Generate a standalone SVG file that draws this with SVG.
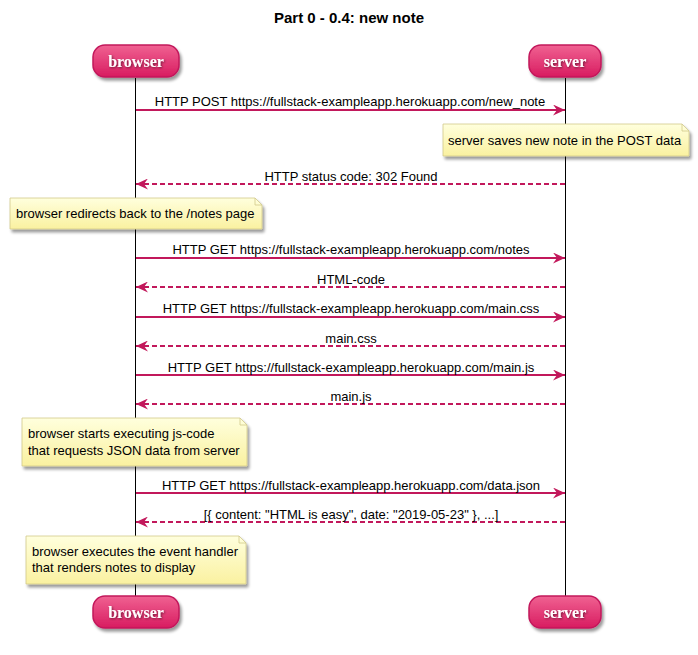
<svg xmlns="http://www.w3.org/2000/svg" width="698" height="655" viewBox="0 0 698 655">
<defs>
<linearGradient id="pg" x1="0" y1="0" x2="0" y2="1">
<stop offset="0" stop-color="#F06292"/>
<stop offset="1" stop-color="#D81B60"/>
</linearGradient>
<linearGradient id="ng" x1="0" y1="0" x2="0" y2="1">
<stop offset="0" stop-color="#FFFFDD"/>
<stop offset="1" stop-color="#FAF1A0"/>
</linearGradient>
<filter id="sh" x="-10%" y="-20%" width="130%" height="160%">
<feGaussianBlur in="SourceAlpha" stdDeviation="1.5"/>
<feOffset dx="2" dy="3" result="b"/>
<feComponentTransfer><feFuncA type="linear" slope="0.4"/></feComponentTransfer>
<feMerge><feMergeNode/><feMergeNode in="SourceGraphic"/></feMerge>
</filter>
<filter id="ts" x="-10%" y="-20%" width="130%" height="160%">
<feGaussianBlur in="SourceAlpha" stdDeviation="0.8"/>
<feOffset dx="1" dy="1"/>
<feComponentTransfer><feFuncA type="linear" slope="0.5"/></feComponentTransfer>
<feMerge><feMergeNode/><feMergeNode in="SourceGraphic"/></feMerge>
</filter>
<marker id="ah" markerWidth="13" markerHeight="11" refX="12" refY="5.5" orient="auto" markerUnits="userSpaceOnUse">
<polygon points="0,0 12,5.5 0,11 4,5.5" fill="#C2185B"/>
</marker>
</defs>
<style>
.t{font-family:"Liberation Sans",Arial,sans-serif;font-size:13px;fill:#000}
.title{font-family:"Liberation Sans",Arial,sans-serif;font-size:15px;font-weight:bold;fill:#000}
.pb{fill:url(#pg);stroke:#C2185B;stroke-width:1.5;filter:url(#sh)}
.pt{font-family:"Liberation Serif","Times New Roman",serif;font-size:16px;font-weight:bold;fill:#fff;filter:url(#ts)}
.life{stroke:#000;stroke-width:1}
.msg{stroke:#C2185B;stroke-width:2;fill:none;marker-end:url(#ah)}
.ret{stroke-dasharray:5,3}
.nb{fill:url(#ng);stroke:#D2C98A;stroke-width:0.8;filter:url(#sh)}
.nf{fill:none;stroke:#D2C98A;stroke-width:0.8}
</style>
<rect width="698" height="655" fill="#fff"/>
<text class="title" x="349" y="23" text-anchor="middle">Part 0 - 0.4: new note</text>

<g id="lifelines">
<line class="life" x1="135.5" y1="78" x2="135.5" y2="596"/>
<line class="life" x1="565.5" y1="78" x2="565.5" y2="596"/>
</g>

<g id="browser">
<rect class="pb" x="93" y="45" width="86" height="32" rx="12"/>
<text class="pt" x="136" y="67" text-anchor="middle">browser</text>
</g>
<g id="server">
<rect class="pb" x="529" y="45" width="72" height="32" rx="12"/>
<text class="pt" x="565" y="67" text-anchor="middle">server</text>
</g>
<g id="browser-bottom">
<rect class="pb" x="93" y="596" width="86" height="32" rx="12"/>
<text class="pt" x="136" y="618" text-anchor="middle">browser</text>
</g>
<g id="server-bottom">
<rect class="pb" x="529" y="596" width="72" height="32" rx="12"/>
<text class="pt" x="565" y="618" text-anchor="middle">server</text>
</g>

<g id="connectors">
<line class="msg" x1="136" y1="110" x2="565" y2="110"/>
<line class="msg ret" x1="565" y1="184" x2="136" y2="184"/>
<line class="msg" x1="136" y1="258" x2="565" y2="258"/>
<line class="msg ret" x1="565" y1="287" x2="136" y2="287"/>
<line class="msg" x1="136" y1="317" x2="565" y2="317"/>
<line class="msg ret" x1="565" y1="346" x2="136" y2="346"/>
<line class="msg" x1="136" y1="375" x2="565" y2="375"/>
<line class="msg ret" x1="565" y1="404" x2="136" y2="404"/>
<line class="msg" x1="136" y1="493" x2="565" y2="493"/>
<line class="msg ret" x1="565" y1="522" x2="136" y2="522"/>
</g>

<g id="labels">
<text class="t" x="350" y="106" text-anchor="middle">HTTP POST https://fullstack-exampleapp.herokuapp.com/new_note</text>
<text class="t" x="351" y="181" text-anchor="middle">HTTP status code: 302 Found</text>
<text class="t" x="351" y="254" text-anchor="middle">HTTP GET https://fullstack-exampleapp.herokuapp.com/notes</text>
<text class="t" x="351" y="284" text-anchor="middle">HTML-code</text>
<text class="t" x="351" y="313" text-anchor="middle">HTTP GET https://fullstack-exampleapp.herokuapp.com/main.css</text>
<text class="t" x="351" y="343" text-anchor="middle">main.css</text>
<text class="t" x="351" y="372" text-anchor="middle">HTTP GET https://fullstack-exampleapp.herokuapp.com/main.js</text>
<text class="t" x="351" y="401" text-anchor="middle">main.js</text>
<text class="t" x="351" y="490" text-anchor="middle">HTTP GET https://fullstack-exampleapp.herokuapp.com/data.json</text>
<text class="t" x="351" y="519" text-anchor="middle">[{ content: "HTML is easy", date: "2019-05-23" }, ...]</text>
</g>

<g id="note1">
<path class="nb" d="M443,124 H682 L689,131 V156 H443 Z"/>
<path class="nf" d="M682,124 V131 H689"/>
<text class="t" x="448" y="145">server saves new note in the POST data</text>
</g>
<g id="note2">
<path class="nb" d="M10,198 H255 L262,205 V229 H10 Z"/>
<path class="nf" d="M255,198 V205 H262"/>
<text class="t" x="16" y="218">browser redirects back to the /notes page</text>
</g>
<g id="note3">
<path class="nb" d="M22,418 H240 L247,425 V466 H22 Z"/>
<path class="nf" d="M240,418 V425 H247"/>
<text class="t" x="28" y="438">browser starts executing js-code</text>
<text class="t" x="28" y="455">that requests JSON data from server</text>
</g>
<g id="note4">
<path class="nb" d="M26,536 H239 L246,543 V584 H26 Z"/>
<path class="nf" d="M239,536 V543 H246"/>
<text class="t" x="32" y="556">browser executes the event handler</text>
<text class="t" x="32" y="572">that renders notes to display</text>
</g>
</svg>
